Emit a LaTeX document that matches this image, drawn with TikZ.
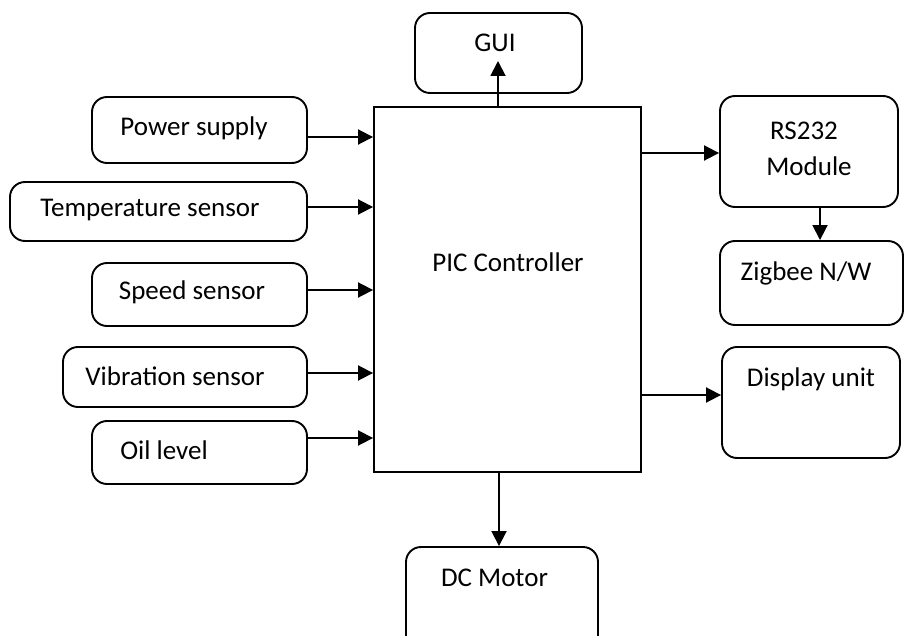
\documentclass[tikz,border=0pt]{standalone}
\usepackage{fontspec}
\setmainfont{Carlito}
\usetikzlibrary{arrows.meta}
\begin{document}
\begin{tikzpicture}[x=1pt,y=-1pt,
  box/.style={draw,line width=1.9pt,rounded corners=15pt,inner sep=0pt},
  ctrl/.style={draw,line width=1.9pt,inner sep=0pt},
  txt/.style={inner sep=0pt,font=\fontsize{27}{32}\selectfont,align=center},
  arr/.style={line width=1.9pt,-{Triangle[length=15pt,width=15pt]}}]
\useasboundingbox (0,0) rectangle (904,636);
\clip (0,0) rectangle (904,636);
% boxes
\node[box,minimum width=167pt,minimum height=80pt] (gui) at (498.5,53) {};
\node[ctrl,minimum width=267pt,minimum height=365pt] (pic) at (507.5,289.5) {};
\node[box,minimum width=215pt,minimum height=66pt] (ps) at (199.5,130) {};
\node[box,minimum width=297pt,minimum height=59pt] (temp) at (158.5,211.5) {};
\node[box,minimum width=215pt,minimum height=63pt] (speed) at (199.5,294.5) {};
\node[box,minimum width=244pt,minimum height=60pt] (vib) at (185,377) {};
\node[box,minimum width=215pt,minimum height=63pt] (oil) at (199.5,452.5) {};
\node[box,minimum width=178pt,minimum height=111pt] (rs) at (809,151.5) {};
\node[box,minimum width=183pt,minimum height=84pt] (zig) at (811.5,283) {};
\node[box,minimum width=178pt,minimum height=111pt] (disp) at (811,402.5) {};
\node[box,minimum width=192pt,minimum height=112pt] (dc) at (502,603) {};
% texts
\node[txt] (guit) at (495,43) {GUI};
\node[txt] (pict) at (508,262) {PIC Controller};
\node[txt] (pst) at (194,128) {Power supply};
\node[txt] (tempt) at (150,210) {Temperature sensor};
\node[txt] (speedt) at (192,292) {Speed sensor};
\node[txt] (vibt) at (175,376) {Vibration sensor};
\node[txt] (oilt) at (164,450) {Oil level};
\node[txt] (rst1) at (804,131) {RS232};
\node[txt] (rst2) at (809,166) {Module};
\node[txt] (zigt) at (806,273) {Zigbee N/W};
\node[txt] (dispt) at (811,379) {Display unit};
\node[txt] (dct) at (494.5,578) {DC Motor};
% connectors
\coordinate (guitip) at (498,61);
\draw[arr] (pic.north -| guitip) -- (guitip);
\draw[arr] ([yshift=-7pt]ps.east) -- ([yshift=-7pt]ps.east -| pic.west);
\draw[arr] ([yshift=4.5pt]temp.east) -- ([yshift=4.5pt]temp.east -| pic.west);
\draw[arr] ([yshift=4.5pt]speed.east) -- ([yshift=4.5pt]speed.east -| pic.west);
\draw[arr] ([yshift=4pt]vib.east) -- ([yshift=4pt]vib.east -| pic.west);
\draw[arr] ([yshift=14.5pt]oil.east) -- ([yshift=14.5pt]oil.east -| pic.west);
\draw[arr] ([yshift=-1.5pt]rs.west -| pic.east) -- ([yshift=-1.5pt]rs.west);
\draw[arr] ([xshift=11pt]rs.south) -- ([xshift=11pt]rs.south |- zig.north);
\draw[arr] ([yshift=7.5pt]disp.west -| pic.east) -- ([yshift=7.5pt]disp.west);
\draw[arr] ([xshift=-3pt]dc.north |- pic.south) -- ([xshift=-3pt]dc.north);
\end{tikzpicture}
\end{document}
